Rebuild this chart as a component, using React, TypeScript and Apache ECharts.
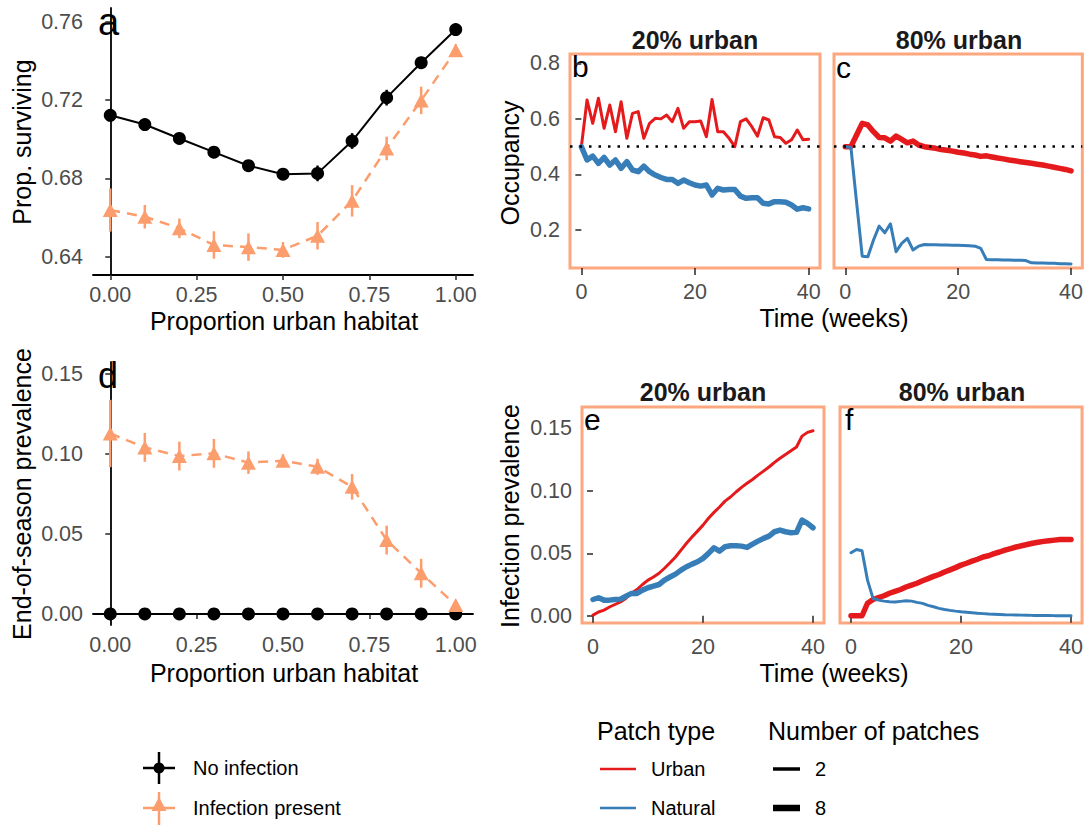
import React, { useEffect, useRef } from 'react';
import * as echarts from 'echarts';

// ---------- Data ----------
const proportions = [0, 0.1, 0.2, 0.3, 0.4, 0.5, 0.6, 0.7, 0.8, 0.9, 1.0];
const survNoInf = [0.7122, 0.7075, 0.7004, 0.6934, 0.6865, 0.6822, 0.6826, 0.6991, 0.7212, 0.739, 0.7559];
const survNoInfSE = [0.003, 0.002, 0.002, 0.002, 0.002, 0.002, 0.004, 0.004, 0.004, 0.003, 0.002];
const survInf = [0.6639, 0.6605, 0.6546, 0.6461, 0.645, 0.6436, 0.6508, 0.6686, 0.6953, 0.7198, 0.7453];
const survInfSE = [0.011, 0.006, 0.005, 0.007, 0.007, 0.004, 0.007, 0.008, 0.006, 0.007, 0.003];
const prevNoInf = [0, 0, 0, 0, 0, 0, 0, 0, 0, 0, 0];
const prevInf = [0.1126, 0.1039, 0.0985, 0.1002, 0.0944, 0.0956, 0.0918, 0.0793, 0.0461, 0.0254, 0.0056];
const prevInfSE = [0.021, 0.009, 0.009, 0.009, 0.007, 0.004, 0.005, 0.008, 0.009, 0.009, 0.002];

const weeks = [0, 1, 2, 3, 4, 5, 6, 7, 8, 9, 10, 11, 12, 13, 14, 15, 16, 17, 18, 19, 20,
  21, 22, 23, 24, 25, 26, 27, 28, 29, 30, 31, 32, 33, 34, 35, 36, 37, 38, 39, 40];

const occ20Urban = [0.5, 0.668, 0.584, 0.674, 0.566, 0.65, 0.554, 0.662, 0.53, 0.62, 0.626, 0.53, 0.584, 0.602, 0.6,
  0.614, 0.59, 0.638, 0.566, 0.59, 0.59, 0.592, 0.536, 0.67, 0.554, 0.554, 0.53, 0.5, 0.59, 0.6, 0.572, 0.538, 0.604,
  0.596, 0.536, 0.533, 0.512, 0.525, 0.56, 0.525, 0.527];
const occ20Natural = [0.5, 0.452, 0.466, 0.44, 0.461, 0.434, 0.452, 0.422, 0.446, 0.416, 0.41, 0.43, 0.41, 0.398, 0.389,
  0.382, 0.382, 0.368, 0.38, 0.37, 0.362, 0.358, 0.362, 0.326, 0.35, 0.344, 0.346, 0.346, 0.322, 0.314, 0.316, 0.316,
  0.296, 0.294, 0.302, 0.302, 0.3, 0.29, 0.275, 0.28, 0.276];
const occ80Urban = [0.5, 0.5, 0.542, 0.584, 0.578, 0.554, 0.533, 0.532, 0.52, 0.538, 0.526, 0.514, 0.52, 0.506, 0.5,
  0.497, 0.494, 0.49, 0.487, 0.484, 0.48, 0.477, 0.473, 0.47, 0.465, 0.467, 0.463, 0.459, 0.456, 0.452, 0.449, 0.446,
  0.443, 0.44, 0.437, 0.434, 0.43, 0.426, 0.422, 0.418, 0.413];
const occ80Natural = [0.5, 0.497, 0.3, 0.106, 0.104, 0.164, 0.214, 0.19, 0.222, 0.122, 0.152, 0.17, 0.128, 0.142, 0.148,
  0.147, 0.147, 0.146, 0.146, 0.145, 0.145, 0.144, 0.143, 0.142, 0.134, 0.094, 0.093, 0.093, 0.092, 0.092, 0.091, 0.091,
  0.09, 0.082, 0.081, 0.081, 0.08, 0.08, 0.079, 0.079, 0.078];

const inf20Urban = [0.0005, 0.003, 0.0045, 0.007, 0.009, 0.011, 0.014, 0.018, 0.021, 0.025, 0.0285, 0.031, 0.034, 0.038,
  0.0424, 0.047, 0.0525, 0.058, 0.063, 0.0677, 0.0725, 0.078, 0.0827, 0.087, 0.0917, 0.095, 0.099, 0.1027, 0.106, 0.109,
  0.1125, 0.1157, 0.119, 0.1227, 0.126, 0.129, 0.132, 0.135, 0.1437, 0.1467, 0.148];
const inf20Natural = [0.013, 0.0144, 0.0125, 0.0125, 0.013, 0.0133, 0.0157, 0.0179, 0.0179, 0.0205, 0.0224, 0.0237, 0.025,
  0.0285, 0.031, 0.0333, 0.0365, 0.0392, 0.0413, 0.0432, 0.0459, 0.0499, 0.0544, 0.0517, 0.0552, 0.056, 0.056, 0.0557,
  0.0547, 0.0573, 0.0597, 0.0619, 0.0637, 0.0672, 0.0685, 0.0672, 0.0664, 0.0667, 0.0765, 0.0739, 0.0704];
const inf80Urban = [0, 0, 0, 0.01, 0.013, 0.0145, 0.016, 0.018, 0.0195, 0.021, 0.023, 0.0245, 0.026, 0.028, 0.0297, 0.0315,
  0.033, 0.035, 0.0367, 0.0385, 0.0405, 0.042, 0.0437, 0.0452, 0.047, 0.048, 0.0497, 0.051, 0.0525, 0.0537, 0.055, 0.056,
  0.057, 0.058, 0.0588, 0.0595, 0.06, 0.0605, 0.061, 0.061, 0.061];
const inf80Natural = [0.0504, 0.053, 0.052, 0.0285, 0.0139, 0.0125, 0.0117, 0.0112, 0.011, 0.0115, 0.012, 0.0117, 0.0107,
  0.0099, 0.0083, 0.0072, 0.0059, 0.005, 0.0043, 0.0037, 0.0032, 0.0028, 0.0024, 0.002, 0.0017, 0.0014, 0.0012, 0.001,
  0.0008, 0.0007, 0.0006, 0.0005, 0.0004, 0.0003, 0.0003, 0.0002, 0.0002, 0.0001, 0.0001, 0.0001, 0.0001];

const propTicks = [0, 0.25, 0.5, 0.75, 1.0];
const survTicks = [0.64, 0.68, 0.72, 0.76];
const prevTicks = [0, 0.05, 0.1, 0.15];
const weekTicks = [0, 20, 40];
const occTicks = [0.2, 0.4, 0.6, 0.8];
const infTicks = [0, 0.05, 0.1, 0.15];

// ---------- Styling ----------
const FONT = "'Liberation Sans', Arial, Helvetica, sans-serif";
const BLACK = '#000000';
const ORANGE = '#FC9D6E';
const BORDER = '#FCA77F';
const RED = '#E41A1C';
const BLUE = '#377EB8';
const TICKCOL = '#4D4D4D';
const TICKFONT = 21.5;
const THIN = 3;
const THICK = 5.5;

function xAxisDef(gridIndex: number, min: number, max: number, ticks: number[], digits: number, withLine: boolean) {
  return {
    type: 'value', gridIndex, min, max,
    axisLine: { show: withLine, lineStyle: { color: BLACK, width: 1.8 } },
    axisTick: { show: true, length: withLine ? 5 : 7, customValues: ticks, lineStyle: { color: '#333', width: 1.6 } },
    axisLabel: {
      show: true, customValues: ticks, color: TICKCOL, fontSize: TICKFONT, fontFamily: FONT,
      margin: withLine ? 9 : 13, formatter: (v: number) => v.toFixed(digits),
    },
    splitLine: { show: false },
  };
}
function yAxisDef(gridIndex: number, min: number, max: number, ticks: number[], digits: number, withLine: boolean, labels: boolean) {
  return {
    type: 'value', gridIndex, min, max,
    axisLine: { show: withLine, lineStyle: { color: BLACK, width: 1.8 } },
    axisTick: { show: labels, length: withLine ? 5 : 6, customValues: ticks, lineStyle: { color: '#333', width: 1.6 } },
    axisLabel: {
      show: labels, customValues: ticks, color: TICKCOL, fontSize: TICKFONT, fontFamily: FONT,
      margin: 10, formatter: (v: number) => v.toFixed(digits),
    },
    splitLine: { show: false },
  };
}

function pairs(xs: number[], ys: number[]) {
  return xs.map((x, i) => [x, ys[i]]);
}
function errData(xs: number[], ys: number[], se: number[]) {
  return xs.map((x, i) => [x, ys[i] - se[i], ys[i] + se[i]]);
}
function errorSeries(axis: number, data: number[][], color: string) {
  return {
    type: 'custom', xAxisIndex: axis, yAxisIndex: axis, z: 3,
    encode: { x: 0, y: [1, 2] },
    renderItem: (_p: any, api: any) => {
      const x = api.value(0);
      const p1 = api.coord([x, api.value(1)]);
      const p2 = api.coord([x, api.value(2)]);
      return { type: 'line', shape: { x1: p1[0], y1: p1[1], x2: p2[0], y2: p2[1] }, style: { stroke: color, lineWidth: 2.5 } };
    },
    data,
  };
}
function lineSeries(axis: number, data: number[][], color: string, width: number, extra: any = {}) {
  return {
    type: 'line', xAxisIndex: axis, yAxisIndex: axis, data, showSymbol: false, symbol: 'none',
    lineStyle: { color, width, cap: 'round', join: 'round' }, itemStyle: { color }, z: 2, ...extra,
  };
}
const dotted = {
  markLine: {
    silent: true, symbol: ['none', 'none'], label: { show: false },
    lineStyle: { color: BLACK, width: 2.5, type: [2.5, 7] },
    data: [{ yAxis: 0.5 }],
  },
};

function txt(text: string, x: number, y: number, size: number, opts: any = {}) {
  return {
    type: 'text', x, y, rotation: opts.rotation || 0, silent: true,
    style: {
      text, fill: opts.fill || BLACK, fontSize: size, fontFamily: FONT, fontWeight: opts.bold ? 'bold' : 'normal',
      textAlign: opts.align || 'center', textVerticalAlign: 'middle', verticalAlign: 'middle',
    },
  };
}

export default function App() {
  const ref = useRef<HTMLDivElement>(null);
  useEffect(() => {
    document.body.style.margin = '0';
    const chart = echarts.init(ref.current as HTMLDivElement, null, { renderer: 'svg' });

    const grids = [
      { left: 93, top: 8, width: 380, height: 267 },
      { left: 93, top: 362, width: 380, height: 263 },
      { left: 570, top: 54, width: 250, height: 214 },
      { left: 834, top: 54, width: 249, height: 214 },
      { left: 582, top: 407, width: 242, height: 216 },
      { left: 840, top: 407, width: 243, height: 216 },
    ].map((g, i) => ({
      ...g,
      containLabel: false,
      show: i >= 2,
      borderColor: BORDER,
      borderWidth: 3,
      backgroundColor: 'transparent',
    }));

    const xAxes = [
      xAxisDef(0, -0.05, 1.05, propTicks, 2, true),
      xAxisDef(1, -0.05, 1.05, propTicks, 2, true),
      xAxisDef(2, -2, 42, weekTicks, 0, false),
      xAxisDef(3, -2, 42, weekTicks, 0, false),
      xAxisDef(4, -2, 42, weekTicks, 0, false),
      xAxisDef(5, -2, 42, weekTicks, 0, false),
    ];
    const yAxes = [
      yAxisDef(0, 0.6308, 0.7669, survTicks, 2, true, true),
      yAxisDef(1, -0.0069, 0.1572, prevTicks, 2, true, true),
      yAxisDef(2, 0.0633, 0.8335, occTicks, 1, false, true),
      yAxisDef(3, 0.0633, 0.8335, occTicks, 1, false, false),
      yAxisDef(4, -0.0058, 0.167, infTicks, 2, false, true),
      yAxisDef(5, -0.0058, 0.167, infTicks, 2, false, false),
    ];

    const series: any[] = [
      // panel a
      errorSeries(0, errData(proportions, survNoInf, survNoInfSE), BLACK),
      lineSeries(0, pairs(proportions, survNoInf), BLACK, 2, { showSymbol: true, symbol: 'circle', symbolSize: 13 }),
      errorSeries(0, errData(proportions, survInf, survInfSE), ORANGE),
      lineSeries(0, pairs(proportions, survInf), ORANGE, 2.5, {
        showSymbol: true, symbol: 'triangle', symbolSize: [15, 14],
        lineStyle: { color: ORANGE, width: 2.5, type: [10, 7] },
      }),
      // panel d
      lineSeries(1, pairs(proportions, prevNoInf), BLACK, 2, { showSymbol: true, symbol: 'circle', symbolSize: 13 }),
      errorSeries(1, errData(proportions, prevInf, prevInfSE), ORANGE),
      lineSeries(1, pairs(proportions, prevInf), ORANGE, 2.5, {
        showSymbol: true, symbol: 'triangle', symbolSize: [15, 14],
        lineStyle: { color: ORANGE, width: 2.5, type: [10, 7] },
      }),
      // panel b
      lineSeries(2, pairs(weeks, occ20Urban), RED, THIN),
      lineSeries(2, pairs(weeks, occ20Natural), BLUE, THICK, dotted),
      // panel c
      lineSeries(3, pairs(weeks, occ80Urban), RED, THICK),
      lineSeries(3, pairs(weeks, occ80Natural), BLUE, THIN, dotted),
      // panel e
      lineSeries(4, pairs(weeks, inf20Urban), RED, THIN),
      lineSeries(4, pairs(weeks, inf20Natural), BLUE, THICK),
      // panel f
      lineSeries(5, pairs(weeks, inf80Urban), RED, THICK),
      lineSeries(5, pairs(weeks, inf80Natural), BLUE, THIN),
    ];

    const graphics: any[] = [
      // panel tags
      txt('a', 98, 22, 38, { align: 'left' }),
      txt('d', 98, 375, 36, { align: 'left' }),
      txt('b', 572, 66, 30, { align: 'left' }),
      txt('c', 836, 67, 30, { align: 'left' }),
      txt('e', 584, 419, 30, { align: 'left' }),
      txt('f', 845, 419, 30, { align: 'left' }),
      // axis titles
      txt('Prop. surviving', 22, 142, 25, { rotation: Math.PI / 2 }),
      txt('Proportion urban habitat', 284, 321, 25),
      txt('End-of-season prevalence', 22, 494, 25, { rotation: Math.PI / 2 }),
      txt('Proportion urban habitat', 284, 673, 25),
      txt('Occupancy', 510, 163, 25, { rotation: Math.PI / 2 }),
      txt('Time (weeks)', 834, 318, 25),
      txt('Infection prevalence', 510, 516, 25, { rotation: Math.PI / 2 }),
      txt('Time (weeks)', 834, 673, 25),
      // strip titles
      txt('20% urban', 695, 40, 25, { bold: true, fill: '#1A1A1A' }),
      txt('80% urban', 959, 40, 25, { bold: true, fill: '#1A1A1A' }),
      txt('20% urban', 703, 392, 25, { bold: true, fill: '#1A1A1A' }),
      txt('80% urban', 962, 392, 25, { bold: true, fill: '#1A1A1A' }),
      // legend 1
      { type: 'line', shape: { x1: 143, y1: 768, x2: 175, y2: 768 }, style: { stroke: BLACK, lineWidth: 2.5 } },
      { type: 'line', shape: { x1: 159, y1: 752, x2: 159, y2: 784 }, style: { stroke: BLACK, lineWidth: 2.5 } },
      { type: 'circle', shape: { cx: 159, cy: 768, r: 5.5 }, style: { fill: BLACK } },
      txt('No infection', 193, 768, 20, { align: 'left' }),
      { type: 'line', shape: { x1: 143, y1: 808, x2: 175, y2: 808 }, style: { stroke: ORANGE, lineWidth: 2.5 } },
      { type: 'line', shape: { x1: 159, y1: 792, x2: 159, y2: 825 }, style: { stroke: ORANGE, lineWidth: 2.5 } },
      { type: 'polygon', shape: { points: [[159, 797], [151.5, 811], [166.5, 811]] }, style: { fill: ORANGE } },
      txt('Infection present', 193, 808, 20, { align: 'left' }),
      // legend 2
      txt('Patch type', 597, 731, 25, { align: 'left' }),
      { type: 'line', shape: { x1: 600, y1: 769, x2: 636, y2: 769 }, style: { stroke: RED, lineWidth: 2.5 } },
      txt('Urban', 651, 769, 20, { align: 'left' }),
      { type: 'line', shape: { x1: 600, y1: 808, x2: 636, y2: 808 }, style: { stroke: BLUE, lineWidth: 2.5 } },
      txt('Natural', 651, 808, 20, { align: 'left' }),
      // legend 3
      txt('Number of patches', 768, 731, 25, { align: 'left' }),
      { type: 'line', shape: { x1: 773, y1: 769, x2: 800, y2: 769 }, style: { stroke: BLACK, lineWidth: 3.5 } },
      txt('2', 815, 769, 20, { align: 'left' }),
      { type: 'line', shape: { x1: 773, y1: 808, x2: 800, y2: 808 }, style: { stroke: BLACK, lineWidth: 6.5 } },
      txt('8', 815, 808, 20, { align: 'left' }),
    ];

    chart.setOption({
      animation: false,
      backgroundColor: '#ffffff',
      grid: grids,
      xAxis: xAxes,
      yAxis: yAxes,
      series,
      graphic: { elements: graphics },
    });
    return () => chart.dispose();
  }, []);
  return <div ref={ref} style={{ width: 1086, height: 825 }} />;
}
